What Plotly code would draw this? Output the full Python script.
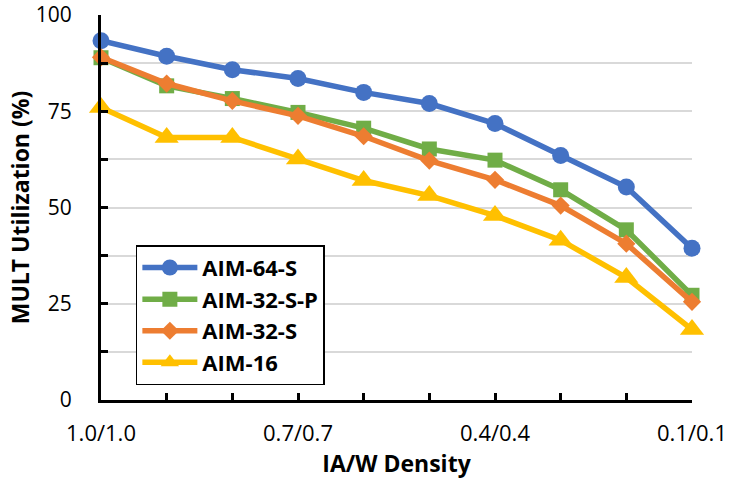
import plotly.graph_objects as go

categories = ["1.0/1.0", "0.9/0.9", "0.8/0.8", "0.7/0.7", "0.6/0.6",
              "0.5/0.5", "0.4/0.4", "0.3/0.3", "0.2/0.2", "0.1/0.1"]
x_labels = ["1.0/1.0", "", "", "0.7/0.7", "", "", "0.4/0.4", "", "", "0.1/0.1"]

aim64s = [93.3, 89.3, 85.8, 83.5, 79.9, 77.0, 71.8, 63.5, 55.3, 39.4]
aim32sp = [88.9, 81.6, 78.3, 74.7, 70.6, 65.2, 62.3, 54.6, 44.2, 27.2]
aim32s = [89.0, 82.2, 77.7, 73.8, 68.5, 62.2, 57.2, 50.5, 40.6, 25.5]
aim16 = [76.0, 68.2, 68.2, 62.6, 57.0, 53.1, 47.9, 41.5, 31.8, 18.3]

y_tickvals = [0, 12.5, 25, 37.5, 50, 62.5, 75, 87.5, 100]
y_ticktext = ["0", "", "25", "", "50", "", "75", "", "100"]

FONT = "Open Sans"

series = [
    ("AIM-64-S", aim64s, "#4472C4", "circle", 17),
    ("AIM-32-S-P", aim32sp, "#70AD47", "square", 15),
    ("AIM-32-S", aim32s, "#ED7D31", "diamond", 14),
    ("AIM-16", aim16, "#FFC000", "triangle-up", 21),
]

fig = go.Figure()
for name, vals, color, sym, size in series:
    fig.add_trace(go.Scatter(
        x=categories, y=vals, name=name, mode="lines+markers",
        line=dict(color=color, width=5.5),
        marker=dict(symbol=sym, size=size, color=color),
        cliponaxis=False,
    ))

fig.update_layout(
    width=733, height=482,
    margin=dict(l=101, r=41, t=15, b=82, autoexpand=False),
    plot_bgcolor="white", paper_bgcolor="white",
    font=dict(family=FONT, size=21, color="black"),
    showlegend=True,
    legend=dict(
        x=0.059, y=0.402, xanchor="left", yanchor="top",
        bordercolor="black", borderwidth=1.5,
        font=dict(family=FONT, size=22, color="black", weight="bold"),
        bgcolor="white", itemwidth=55, tracegroupgap=0,
    ),
    xaxis=dict(
        type="category", range=[0, 9], automargin=False,
        tickmode="array", tickvals=categories, ticktext=x_labels,
        showline=True, linecolor="black", linewidth=3,
        ticks="inside", ticklen=7, tickwidth=3, tickcolor="black",
        showgrid=False, ticklabelstandoff=12,
        tickfont=dict(family=FONT, size=22),
        title=dict(text="IA/W Density", font=dict(family=FONT, size=23, weight="bold"), standoff=9),
    ),
    yaxis=dict(
        range=[0, 100], tickmode="array", tickvals=y_tickvals, ticktext=y_ticktext,
        automargin=False, ticklabeloverflow="allow",
        showline=True, linecolor="black", linewidth=3,
        ticks="inside", ticklen=7, tickwidth=3, tickcolor="black",
        showgrid=True, gridcolor="#D9D9D9", gridwidth=1.5, zeroline=False,
        ticklabelstandoff=22,
        tickfont=dict(family=FONT, size=21),
        title=dict(text="MULT Utilization (%)", font=dict(family=FONT, size=23, weight="bold"), standoff=0),
    ),
)

fig.write_html("out.html")
